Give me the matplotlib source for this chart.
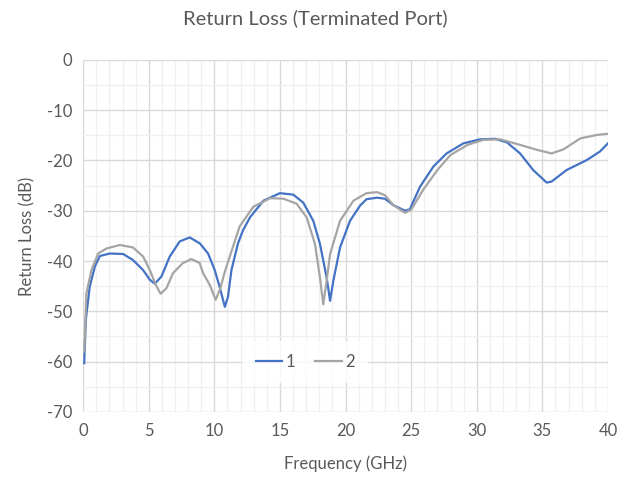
import numpy as np
import matplotlib.pyplot as plt

# Dados (frequência em GHz, perda de retorno em dB)
freq_1 = [0.08, 0.2, 0.5, 0.89, 1.27, 2.03, 3.05, 3.8, 4.57, 5.08, 5.46, 5.96, 6.6, 7.36,
          8.12, 8.9, 9.52, 10.03, 10.4, 10.8, 11.04, 11.3, 11.8, 12.18, 12.72, 13.74,
          15.0, 16.02, 16.78, 17.54, 18.05, 18.56, 18.82, 19.07, 19.58, 20.34, 21.1,
          21.6, 22.4, 23.0, 23.65, 24.54, 24.9, 25.68, 26.7, 27.7, 28.98, 30.25, 31.4,
          32.3, 33.3, 34.3, 35.33, 35.7, 36.85, 38.4, 39.4, 40.0]
rl_1 = [-60.3, -51.7, -45.1, -41.1, -39.0, -38.5, -38.6, -39.8, -41.8, -43.7, -44.5,
        -43.1, -39.1, -36.1, -35.3, -36.5, -38.5, -41.8, -45.1, -49.1, -47.1, -41.8,
        -36.5, -33.9, -31.3, -28.0, -26.5, -26.8, -28.4, -32.0, -36.6, -43.3, -47.9,
        -43.9, -37.3, -32.0, -29.0, -27.7, -27.4, -27.6, -28.9, -30.0, -29.7, -25.2,
        -21.2, -18.6, -16.6, -15.8, -15.7, -16.4, -18.6, -21.9, -24.4, -24.2, -21.9,
        -19.9, -18.2, -16.6]

freq_2 = [0.08, 0.25, 0.63, 1.14, 1.78, 2.8, 3.8, 4.57, 5.08, 5.53, 5.9, 6.35, 6.85, 7.6,
          8.25, 8.88, 9.14, 9.64, 10.1, 10.46, 10.8, 11.3, 11.93, 12.97, 14.25, 15.26,
          16.27, 17.03, 17.67, 18.05, 18.3, 18.56, 18.82, 19.58, 20.6, 21.6, 22.4, 23.0,
          23.65, 24.54, 25.0, 25.9, 27.0, 28.0, 29.3, 30.5, 31.8, 33.3, 34.6, 35.7, 36.6,
          37.9, 39.2, 40.0]
rl_2 = [-58.0, -46.4, -41.8, -38.5, -37.5, -36.8, -37.3, -39.1, -41.8, -44.7, -46.5,
        -45.4, -42.4, -40.4, -39.6, -40.4, -42.4, -44.7, -47.7, -45.4, -42.1, -38.1,
        -33.1, -29.2, -27.5, -27.6, -28.6, -31.3, -36.6, -43.3, -48.6, -43.9, -38.6,
        -32.0, -28.0, -26.5, -26.3, -26.9, -28.9, -30.4, -29.8, -25.9, -21.9, -18.9,
        -16.9, -15.9, -15.8, -16.9, -17.9, -18.6, -17.8, -15.6, -14.9, -14.7]

texto = '#595959'
plt.rcParams['font.family'] = ['Lato', 'DejaVu Sans']
plt.rcParams['axes.unicode_minus'] = False

fig = plt.figure(figsize=(6.3, 4.79), dpi=100)
ax = fig.add_axes([0.132, 0.140, 0.833, 0.735])

ax.plot(freq_1, rl_1, color='#4472C4', lw=1.6, label='1')
ax.plot(freq_2, rl_2, color='#A5A5A5', lw=1.6, label='2')

ax.set_xlim(0, 40)
ax.set_ylim(-70, 0)
ax.set_xticks(np.arange(0, 41, 5))
ax.set_yticks(np.arange(-70, 1, 10))
ax.set_xticks(np.arange(0, 41, 1), minor=True)
ax.set_yticks(np.arange(-70, 1, 5), minor=True)

# Grade principal e secundária no estilo Excel
ax.grid(True, which='major', color='#D9D9D9', lw=1.0)
ax.grid(True, which='minor', color='#F0F0F0', lw=1.0)
ax.set_axisbelow(True)
ax.tick_params(which='both', length=0, colors=texto, labelsize=12, pad=8)
for s in ax.spines.values():
    s.set_visible(False)

# Título centrado na figura inteira, como no Excel
fig.text(0.5, 1 - 18 / 479, 'Return Loss (Terminated Port)', color=texto,
         fontsize=14.5, ha='center', va='center')
ax.set_xlabel('Frequency (GHz)', color=texto, fontsize=12, labelpad=12)
ax.set_ylabel('Return Loss (dB)', color=texto, fontsize=12, labelpad=8)

leg = ax.legend(loc='center', bbox_to_anchor=(0.423, 0.142), ncol=2, frameon=True,
                fontsize=12, handlelength=1.6, handletextpad=0.2, columnspacing=1.2,
                borderpad=0.8, fancybox=False)
leg.get_frame().set_facecolor('white')
leg.get_frame().set_edgecolor('none')
for t in leg.get_texts():
    t.set_color(texto)

fig.savefig('out.png', dpi=100)
